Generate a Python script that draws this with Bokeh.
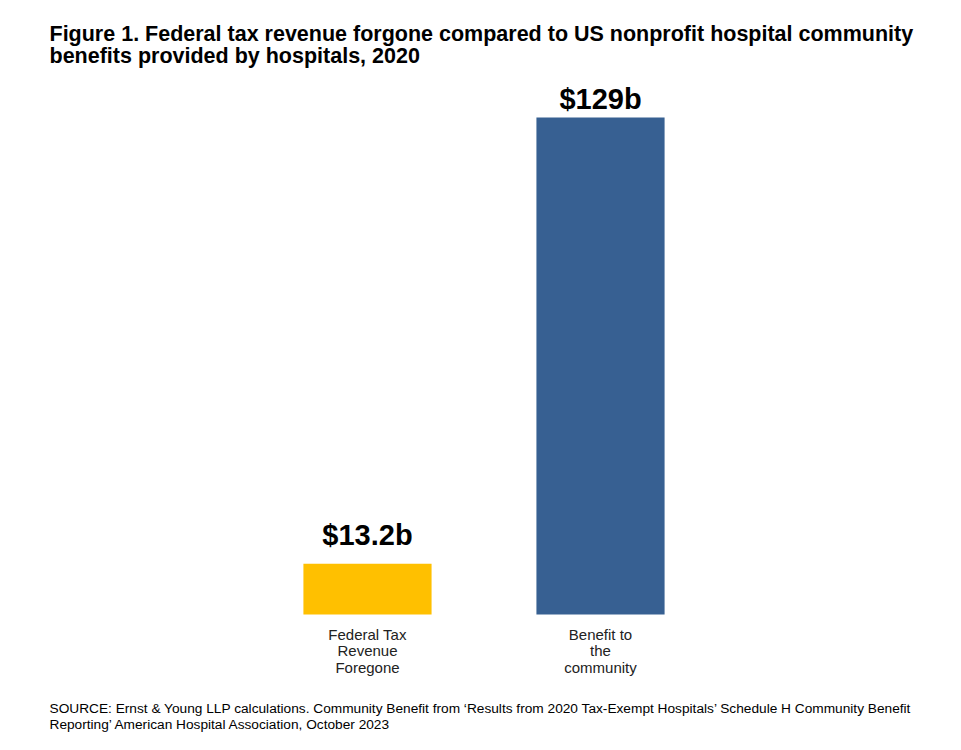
from bokeh.plotting import figure
from bokeh.models import Range1d, Label, FactorRange, ColumnDataSource
from bokeh.core.properties import value
from bokeh.embed import file_html
from bokeh.resources import INLINE

# ---- data ----
categories = ["Federal Tax\nRevenue\nForegone", "Benefit to\nthe\ncommunity"]
amounts = [13.2, 129]
value_labels = ["$13.2b", "$129b"]

title_lines = [
    "Figure 1. Federal tax revenue forgone compared to US nonprofit hospital community",
    "benefits provided by hospitals, 2020",
]
source_lines = [
    "SOURCE: Ernst & Young LLP calculations. Community Benefit from \u2018Results from 2020 Tax-Exempt Hospitals\u2019 Schedule H Community Benefit",
    "Reporting\u2019 American Hospital Association, October 2023",
]

# ---- styles ----
bar_colors = ["#FFC000", "#376092"]
label_offsets = [-13, -3]
FONT = "Liberation Sans"

W, H = 950, 742
p = figure(width=W, height=H,
           x_range=FactorRange(*categories, range_padding=1.002,
                               range_padding_units="absolute"),
           y_range=Range1d(-33.2, 159.4),
           x_axis_location=None, y_axis_location=None,
           output_backend="svg", toolbar_location=None,
           min_border_left=17, min_border_right=0,
           min_border_top=0, min_border_bottom=0)

src = ColumnDataSource(dict(cat=categories, amount=amounts, label=value_labels,
                            color=bar_colors, off=label_offsets,
                            base=[0] * len(categories)))

p.vbar(x="cat", top="amount", bottom=0, width=0.55, fill_color="color",
       line_color=None, source=src)
p.text(x="cat", y="amount", text="label", y_offset="off",
       text_align="center", text_baseline="bottom",
       text_font=value(FONT), text_font_style="bold", text_font_size="29px",
       text_color="#000000", source=src)
p.text(x="cat", y="base", text="cat", y_offset=11,
       text_align="center", text_baseline="top", text_line_height=0.97,
       text_font=value(FONT), text_font_size="15px",
       text_color="#222222", source=src)

p.xgrid.grid_line_color = None
p.ygrid.grid_line_color = None
p.outline_line_color = None

for txt, yb in zip(title_lines, [33, 55]):
    p.add_layout(Label(x=49, y=yb, x_units="canvas", y_units="canvas", text=txt,
                       text_font=FONT, text_font_style="bold", text_font_size="21.5px",
                       text_baseline="alphabetic", text_color="#000000"))
for txt, yb in zip(source_lines, [708, 724]):
    p.add_layout(Label(x=49, y=yb, x_units="canvas", y_units="canvas", text=txt,
                       text_font=FONT, text_font_size="13.7px",
                       text_baseline="alphabetic", text_color="#000000"))

open("out.html", "w").write(file_html(p, INLINE))
